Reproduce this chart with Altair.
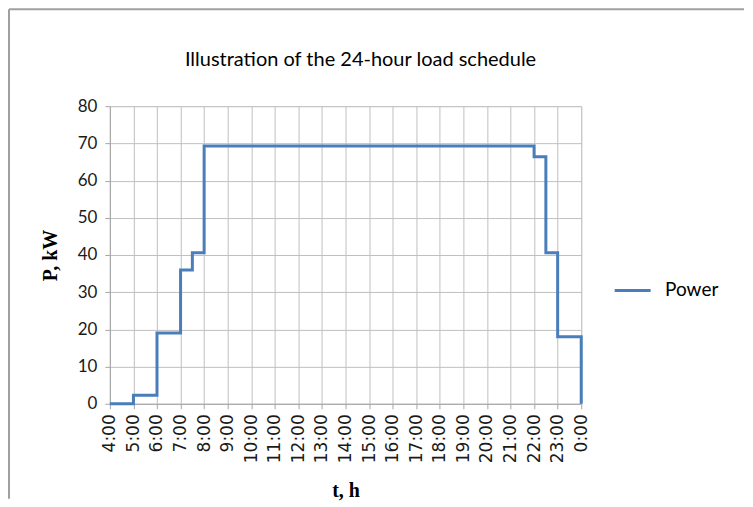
import altair as alt
import pandas as pd

# Step schedule: start hour of each step and its power (kW)
hours = [4, 5, 6, 7, 7.5, 8, 22, 22.5, 23, 24]
power = [0, 2.3, 19, 36, 40.6, 69.3, 66.4, 40.6, 18, 0]
tick_hours = list(range(4, 25))
tick_labels = ["4:00", "5:00", "6:00", "7:00", "8:00", "9:00", "10:00", "11:00",
               "12:00", "13:00", "14:00", "15:00", "16:00", "17:00", "18:00",
               "19:00", "20:00", "21:00", "22:00", "23:00", "0:00"]
series = "Power"

df = pd.DataFrame({"t": hours, "P": power, "series": series})

label_expr = "[" + ",".join("'" + s + "'" for s in tick_labels) + "][datum.value - 4]"

W, H = 472, 298

line = alt.Chart(df).mark_line(interpolate="step-after", strokeWidth=3).encode(
    x=alt.X("t:Q", scale=alt.Scale(domain=[4, 24], nice=False, zero=False),
            axis=alt.Axis(values=tick_hours, labelExpr=label_expr, labelAngle=270,
                          title="t, h", titleFont="Liberation Serif", titleFontWeight="bold",
                          titleFontSize=20, titlePadding=18, titleColor="#000000",
                          labelFont="DejaVu Sans", labelFontSize=17, labelColor="#1a1a1a",
                          labelPadding=5, tickSize=5, tickColor="#a6a6a6",
                          domainColor="#a6a6a6", gridColor="#c0c0c0",
                          labelOverlap=False)),
    y=alt.Y("P:Q", scale=alt.Scale(domain=[0, 80], nice=False),
            axis=alt.Axis(values=list(range(0, 81, 10)), title="P, kW",
                          titleFont="Liberation Serif", titleFontWeight="bold",
                          titleFontSize=20, titlePadding=17, titleColor="#000000",
                          labelFont="Lato", labelFontSize=17, labelColor="#1a1a1a",
                          labelPadding=8, tickSize=5, tickColor="#a6a6a6",
                          domainColor="#a6a6a6", gridColor="#c0c0c0")),
    color=alt.Color("series:N", scale=alt.Scale(range=["#4a7ebb"]),
                    legend=alt.Legend(title=None, orient="none", legendX=504, legendY=165,
                                      symbolType="stroke", symbolSize=1296,
                                      symbolStrokeWidth=3, labelFont="Lato",
                                      labelFontSize=19, labelColor="#000000",
                                      labelOffset=13, padding=0)),
)

frame_top = alt.Chart().mark_rule(color="#a0a0a0", strokeWidth=2).encode(
    x=alt.value(-101), x2=alt.value(635), y=alt.value(-97))
frame_left = alt.Chart().mark_rule(color="#a0a0a0", strokeWidth=2).encode(
    x=alt.value(-101), y=alt.value(-97), y2=alt.value(393))

chart = alt.layer(frame_top, frame_left, line).properties(
    width=W, height=H, padding=0,
    title=alt.TitleParams("Illustration of the 24-hour load schedule", font="Lato",
                          fontSize=20, fontWeight="normal", color="#000000",
                          anchor="middle", frame="group", dx=15, offset=-62),
).configure_view(stroke=None).configure(background="white")

chart.save("out.html", embed_options={"renderer": "svg", "actions": False})
